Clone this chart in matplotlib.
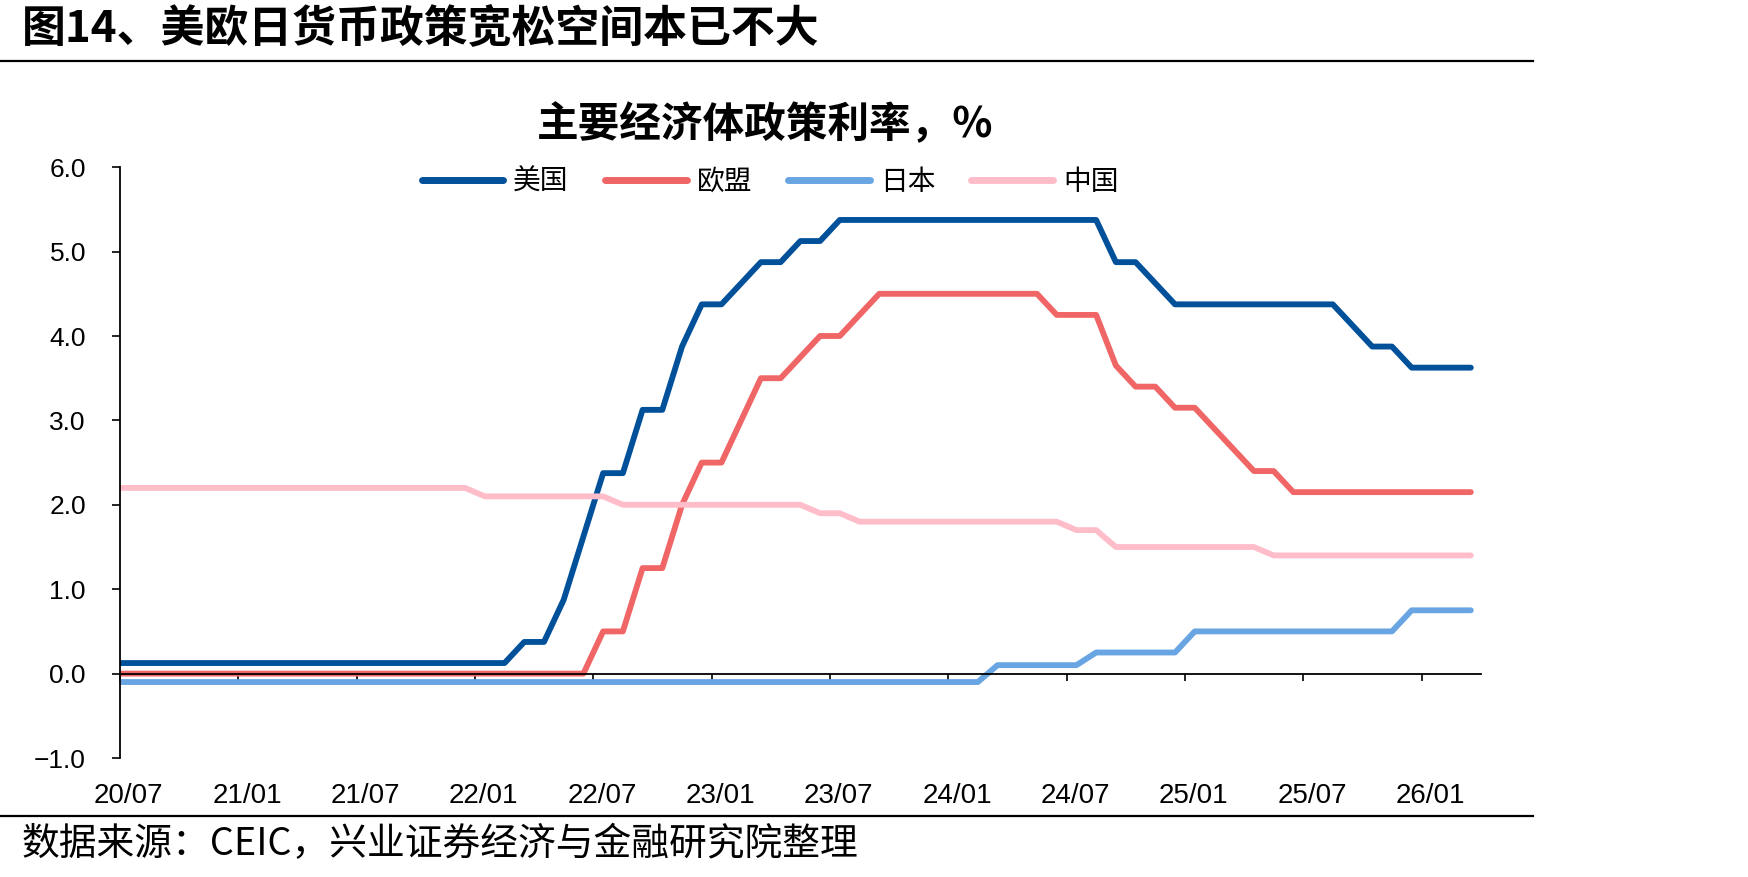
import numpy as np
import pandas as pd
import matplotlib
matplotlib.use("Agg")
import matplotlib.pyplot as plt
from matplotlib.lines import Line2D

plt.rcParams['font.family'] = ['Noto Sans CJK SC', 'DejaVu Sans']
plt.rcParams['axes.unicode_minus'] = True

# monthly policy rates, 2020/06 .. 2026/03 (first month sits left of the axis and is clipped)
months = pd.period_range('2020-06', '2026-03', freq='M')

us = ([0.125] * 21
      + [0.375, 0.375, 0.875, 1.625, 2.375, 2.375, 3.125, 3.125, 3.875, 4.375]
      + [4.375, 4.625, 4.875, 4.875, 5.125, 5.125]
      + [5.375] * 14
      + [4.875, 4.875, 4.625, 4.375]
      + [4.375] * 8
      + [4.125, 3.875, 3.875, 3.625]
      + [3.625] * 3)

eu = ([0.0] * 25
      + [0.5, 0.5, 1.25, 1.25, 2.0, 2.5]
      + [2.5, 3.0, 3.5, 3.5, 3.75, 4.0, 4.0, 4.25]
      + [4.5] * 9
      + [4.25, 4.25, 4.25, 3.65, 3.40, 3.40, 3.15]
      + [3.15, 2.90, 2.65, 2.40, 2.40]
      + [2.15] * 10)

jp = [-0.1] * 45 + [0.1] * 5 + [0.25] * 5 + [0.5] * 11 + [0.75] * 4

cn = [2.2] * 19 + [2.1] * 7 + [2.0] * 10 + [1.9] * 2 + [1.8] * 11 + [1.7] * 2 + [1.5] * 8 + [1.4] * 11

series_names = ['美国', '欧盟', '日本', '中国']
series_colors = ['#00509A', '#F06565', '#68A5E2', '#FFBDC9']

tick_labels = ['20/07', '21/01', '21/07', '22/01', '22/07', '23/01',
               '23/07', '24/01', '24/07', '25/01', '25/07', '26/01']

# x in months since 2020/07, points placed mid-month
start = pd.Period('2020-07', freq='M')
x = np.array([(m - start).n for m in months]) + 0.5
tick_pos = np.arange(len(tick_labels)) * 6

W, H = 1748, 877
fig = plt.figure(figsize=(W / 100, H / 100), dpi=100)

# headline and rules
fig.text(22 / W, 1 - 28 / H, '图14、美欧日货币政策宽松空间本已不大', fontsize=31.6,
         fontweight='bold', ha='left', va='center')
fig.add_artist(Line2D([0, 1533 / W], [1 - 61 / H] * 2, color='black', lw=1.6))
fig.add_artist(Line2D([0, 1533 / W], [1 - 816 / H] * 2, color='black', lw=1.6))
fig.text(22 / W, 1 - 845 / H, '数据来源：CEIC，兴业证券经济与金融研究院整理', fontsize=27.2,
         ha='left', va='center')

ax = fig.add_axes([120 / W, 1 - 758 / H, (1480.7 - 120) / W, (758 - 167.2) / H])

for vals, name, col in zip([us, eu, jp, cn], series_names, series_colors):
    ax.plot(x, vals, color=col, lw=4.2, label=name,
            solid_capstyle='round', solid_joinstyle='round')

ax.set_xlim(0, 69)
ax.set_ylim(-1, 6)
yt = np.arange(-1, 7, 1)
ax.set_yticks(yt)
ax.set_yticklabels([f'{v:.1f}'.replace('-', '\u2212') for v in yt], fontsize=19,
                   family=['Liberation Sans', 'DejaVu Sans'])
ax.tick_params(axis='y', length=5.5, width=1.2, pad=19, colors='black')

for s in ['top', 'right']:
    ax.spines[s].set_visible(False)
ax.spines['left'].set_linewidth(1.3)
ax.spines['bottom'].set_position(('data', 0))
ax.spines['bottom'].set_linewidth(1.3)
ax.set_xticks(tick_pos)
ax.tick_params(axis='x', length=5, width=1.2, labelbottom=False)

# month labels along the bottom of the plot area
sec = ax.secondary_xaxis(0.0)
sec.set_xticks(tick_pos + 0.45)
sec.set_xticklabels(tick_labels, fontsize=20, family=['Liberation Sans', 'DejaVu Sans'])
sec.tick_params(length=0, pad=18)
sec.spines['bottom'].set_visible(False)

fig.text(765 / W, 1 - 125 / H, '主要经济体政策利率，%', fontsize=30, fontweight='bold',
         ha='center', va='center')

leg = ax.legend(loc='center', bbox_to_anchor=(770 / W, 1 - 182 / H),
                bbox_transform=fig.transFigure, ncol=4, frameon=False, fontsize=20,
                handlelength=2.95, handletextpad=0.35, columnspacing=1.3)
for h in leg.get_lines():
    h.set_linewidth(5)
    h.set_solid_capstyle('round')

fig.savefig('out.png', dpi=100)
